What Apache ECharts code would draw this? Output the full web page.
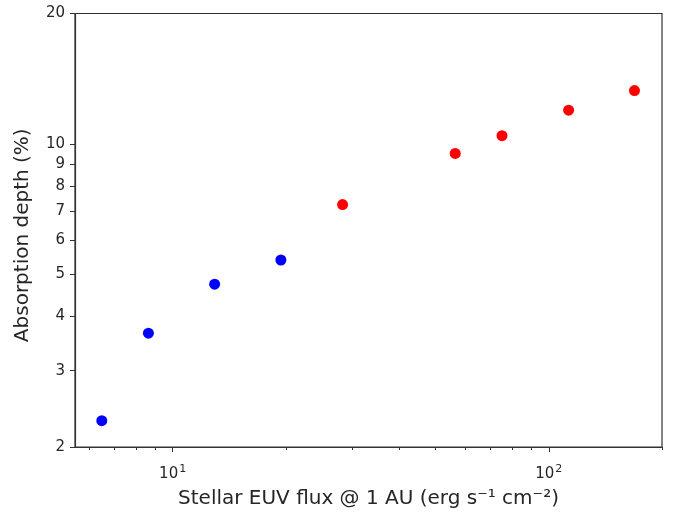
<!DOCTYPE html>
<html>
<head>
<meta charset="utf-8">
<script src="https://cdn.jsdelivr.net/npm/echarts@6/dist/echarts.min.js"></script>
<style>html,body{margin:0;padding:0;background:#fff}#c{width:673px;height:514px}</style>
</head>
<body>
<div id="c"></div>
<script>
// Data
const blueFlux = [6.48, 8.62, 12.93, 19.40];
const blueDepth = [2.30, 3.66, 4.75, 5.40];
const redFlux = [28.3, 56.4, 75.1, 112.9, 169.0];
const redDepth = [7.25, 9.51, 10.45, 11.97, 13.28];
const yTicks = [2, 3, 4, 5, 6, 7, 8, 9, 10, 20];
const xMajorTicks = [10, 100];
const xMajorExponents = {10: '1', 100: '2'};
const xMinorTicks = [6, 7, 8, 9, 20, 30, 40, 50, 60, 70, 80, 90, 200];

const font = 'DejaVu Sans';
const txt = '#262626';
const axisColor = '#333';

const chart = echarts.init(document.getElementById('c'), null, {renderer: 'canvas'});
chart.setOption({
  animation: false,
  backgroundColor: '#fff',
  grid: {left: 75, right: 11, top: 13.5, bottom: 66, show: true, borderColor: axisColor, borderWidth: 1.2, backgroundColor: 'transparent'},
  xAxis: [{
    type: 'log', logBase: 10, min: 5.5, max: 200,
    name: 'Stellar EUV flux @ 1 AU (erg s\u207b\u00b9 cm\u207b\u00b2)',
    nameLocation: 'middle', nameGap: 42,
    nameTextStyle: {fontFamily: font, fontSize: 20, color: txt},
    axisLine: {show: true, lineStyle: {color: axisColor, width: 1.2}},
    axisTick: {show: true, length: 5, inside: false, customValues: xMajorTicks, lineStyle: {color: axisColor}},
    minorTick: {show: false},
    axisLabel: {show: true, customValues: xMajorTicks, margin: 13, fontFamily: font, fontSize: 15, color: txt,
      formatter: v => '{b|10}{s|' + (xMajorExponents[Math.round(v)] || '') + '}',
      rich: {
        b: {fontFamily: font, fontSize: 15, color: txt, lineHeight: 22, verticalAlign: 'bottom'},
        s: {fontFamily: font, fontSize: 11, color: txt, lineHeight: 22, verticalAlign: 'bottom', padding: [0, 0, 7, 1]}
      }},
    splitLine: {show: false}
  }, {
    type: 'log', logBase: 10, min: 5.5, max: 200, position: 'bottom',
    axisLine: {show: false},
    axisTick: {show: true, length: 3, customValues: xMinorTicks, lineStyle: {color: axisColor}},
    axisLabel: {show: false},
    splitLine: {show: false}
  }],
  yAxis: {
    type: 'log', logBase: 10, min: 2, max: 20,
    name: 'Absorption depth (%)',
    nameLocation: 'middle', nameGap: 42,
    nameTextStyle: {fontFamily: font, fontSize: 20, color: txt, padding: [0, 10, 0, 0]},
    axisLine: {show: true, lineStyle: {color: axisColor, width: 1.2}},
    axisTick: {show: true, length: 5, customValues: yTicks, lineStyle: {color: axisColor}},
    axisLabel: {show: true, customValues: yTicks, margin: 10, fontFamily: font, fontSize: 15, color: txt,
      formatter: v => String(Math.round(v))},
    splitLine: {show: false}
  },
  series: [{
    type: 'scatter', xAxisIndex: 0,
    data: blueFlux.map((x, i) => [x, blueDepth[i]]),
    symbol: 'circle', symbolSize: 11,
    itemStyle: {color: '#0000ff', opacity: 1}
  }, {
    type: 'scatter', xAxisIndex: 0,
    data: redFlux.map((x, i) => [x, redDepth[i]]),
    symbol: 'circle', symbolSize: 11,
    itemStyle: {color: '#ff0000', opacity: 1}
  }]
});
</script>
</body>
</html>
